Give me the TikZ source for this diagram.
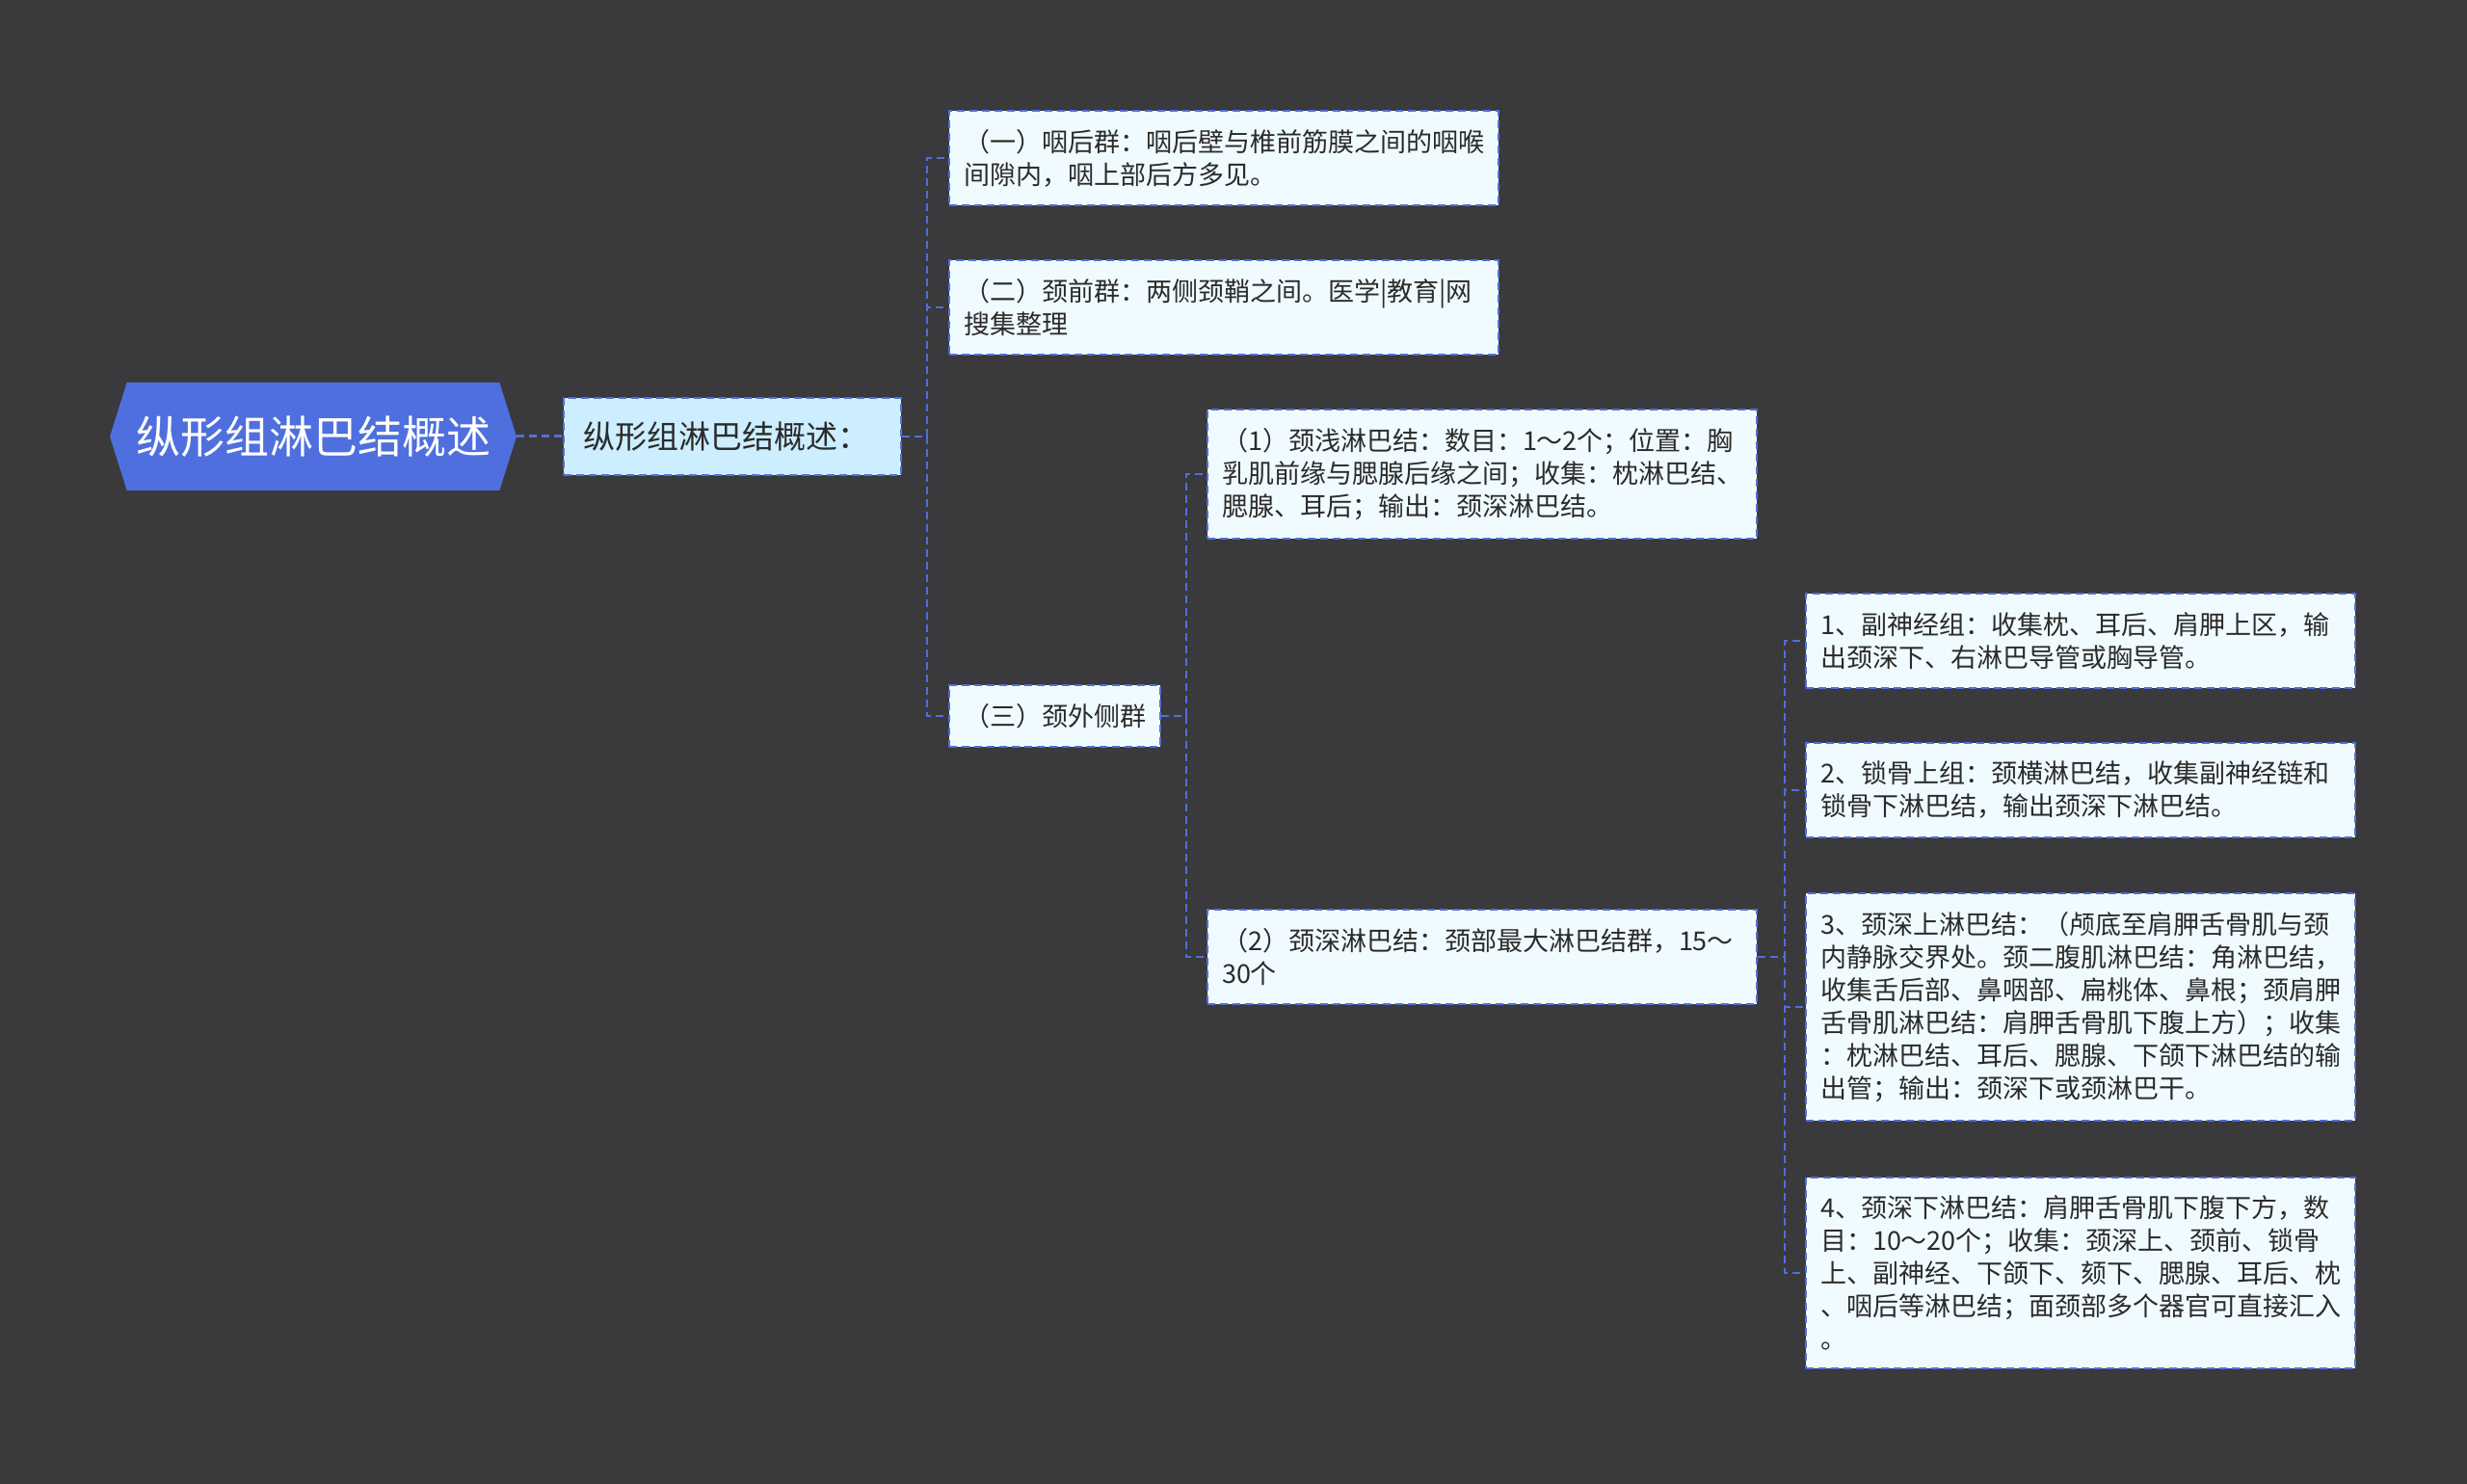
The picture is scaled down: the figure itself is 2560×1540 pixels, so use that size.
\documentclass[tikz,border=0pt]{standalone}
\usepackage{fontspec}
\newfontfamily\cjk{Noto Sans CJK SC}
\usepackage{tikz}
\usetikzlibrary{shapes.symbols}
\definecolor{bgdark}{HTML}{3A393B}
\definecolor{mapblue}{HTML}{4F6FDE}
\definecolor{sumfill}{HTML}{CCEEFF}
\definecolor{leaffill}{HTML}{F0FBFF}
\definecolor{inktext}{HTML}{2B2B2B}

\begin{document}
\begin{tikzpicture}[
x=0.5pt, y=-0.5pt,
root/.style={
	signal, signal to=west and east, signal pointer angle=145,
	fill=mapblue, text=white, minimum width=211pt, minimum height=56pt,
	inner sep=0pt, font=\cjk\fontsize{23}{28}\selectfont
},
dashbox/.style={draw=mapblue, line width=1pt, dash pattern=on 4pt off 2.5pt},
summary/.style={
	dashbox, fill=sumfill, text=inktext, anchor=west,
	text width=155pt, align=left, inner xsep=10pt, minimum height=40pt,
	font=\cjk\fontsize{16.5}{20}\selectfont
},
cell/.style={
	dashbox, fill=leaffill, text=inktext, anchor=west,
	align=left, inner xsep=7.5pt, inner ysep=9.5pt,
	font=\cjk\fontsize{13.5}{17}\selectfont
},
leaf/.style={cell, text width=270pt},
link/.style={draw=mapblue, line width=1pt, dash pattern=on 4pt off 2.5pt}
]
\fill[bgdark] (0,0) rectangle (2560,1540);
\node[root] (root) at (325,453) {纵形组淋巴结概述};
\node[summary] (sum) at (584,453) {纵形组淋巴结概述：};
\node[leaf] (qa) at (984,164) {（一）咽后群：咽后壁与椎前筋膜之间的咽喉\\间隙内，咽上部后方多见。};
\node[leaf] (qb) at (984,319) {（二）颈前群：两侧颈鞘之间。医学|教育|网\\搜集整理};
\node[cell] (qc) at (984,743) {（三）颈外侧群};
\node[leaf] (qc1) at (1252,492) {（1）颈浅淋巴结：数目：1～2个；位置：胸\\乳肌前缘与腮腺后缘之间；收集：枕淋巴结、\\腮腺、耳后；输出：颈深淋巴结。};
\node[leaf] (qc2) at (1252,993) {（2）颈深淋巴结：颈部最大淋巴结群，15～\\30个};
\node[leaf] (d1) at (1873,665) {1、副神经组：收集枕、耳后、肩胛上区，输\\出颈深下、右淋巴导管或胸导管。};
\node[leaf] (d2) at (1873,820) {2、锁骨上组：颈横淋巴结，收集副神经链和\\锁骨下淋巴结，输出颈深下淋巴结。};
\node[leaf] (d3) at (1873,1045) {3、颈深上淋巴结：（颅底至肩胛舌骨肌与颈\\内静脉交界处。颈二腹肌淋巴结：角淋巴结，\\收集舌后部、鼻咽部、扁桃体、鼻根；颈肩胛\\舌骨肌淋巴结：肩胛舌骨肌下腹上方）；收集\\：枕淋巴结、耳后、腮腺、下颌下淋巴结的输\\出管；输出：颈深下或颈淋巴干。};
\node[leaf] (d4) at (1873,1321) {4、颈深下淋巴结：肩胛舌骨肌下腹下方，数\\目：10～20个；收集：颈深上、颈前、锁骨\\上、副神经、下颌下、颏下、腮腺、耳后、枕\\、咽后等淋巴结；面颈部多个器官可直接汇入\\。};
\draw[link, line width=1.5pt] (root.east) -- (sum.west);
\foreach \c in {qa,qb,qc}
{
	\draw[link] (sum.east) -- ++(26,0) |- (\c.west);
}
\foreach \c in {qc1,qc2}
{
	\draw[link] (qc.east) -- ++(26,0) |- (\c.west);
}
\foreach \c in {d1,d2,d3,d4}
{
	\draw[link] (qc2.east) -- ++(28,0) |- (\c.west);
}
\end{tikzpicture}
\end{document}
